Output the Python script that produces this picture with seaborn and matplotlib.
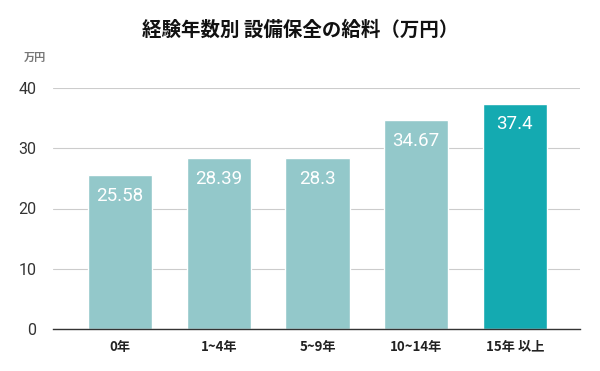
import matplotlib
matplotlib.use("Agg")
import matplotlib.pyplot as plt
import seaborn as sns
import pandas as pd

categories = ["0年", "1~4年", "5~9年", "10~14年", "15年 以上"]
values = [25.58, 28.39, 28.3, 34.67, 37.4]
labels = ["25.58", "28.39", "28.3", "34.67", "37.4"]
yticks = [0, 10, 20, 30, 40]

sns.set_theme(style="white")
plt.rcParams['font.family'] = ['Noto Sans CJK JP', 'DejaVu Sans']

df = pd.DataFrame({"cat": categories, "val": values})
colors = ["#93c8ca", "#93c8ca", "#93c8ca", "#93c8ca", "#14aab1"]

fig = plt.figure(figsize=(6, 3.71), dpi=100)
ax = fig.add_axes([53/600, 1 - 329/371, (580-53)/600, (329-88)/371])
sns.barplot(data=df, x="cat", y="val", hue="cat", palette=colors, legend=False,
            width=0.65, ax=ax, saturation=1)
ax.set_ylim(0, 40)
ax.set_xlim(-0.68, 4.66)
ax.set_yticks(yticks)
ax.set_yticklabels([str(t) for t in yticks], fontfamily=['Roboto', 'DejaVu Sans'], fontsize=11.5, color="#333333")
ax.yaxis.grid(True, color="#cccccc", linewidth=0.8)
ax.set_axisbelow(True)
for s in ["top", "right", "left"]:
    ax.spines[s].set_visible(False)
ax.spines["bottom"].set_color("#333333")
ax.spines["bottom"].set_linewidth(1)
ax.set_xlabel("")
ax.set_ylabel("")
ax.tick_params(axis="x", length=0, pad=8, labelsize=9.5)
ax.tick_params(axis="y", length=0, pad=12)
for lab in ax.get_xticklabels():
    lab.set_fontweight("bold")
    lab.set_color("#222222")
for p, t in zip(ax.patches, labels):
    ax.annotate(t, (p.get_x() + p.get_width() / 2, p.get_height()),
                xytext=(0, -15), textcoords="offset points", ha="center", va="center",
                color="white", fontsize=13.5, fontfamily=['Roboto', 'DejaVu Sans'])
fig.text(0.5, 1 - 30/371, "経験年数別 設備保全の給料（万円）", ha="center", va="center",
         fontsize=14, fontweight="bold", color="#111111")
fig.text(35/600, 1 - 57/371, "万円", ha="center", va="center", fontsize=8, color="#777777", fontweight="bold")
fig.savefig("out.png", dpi=100)
